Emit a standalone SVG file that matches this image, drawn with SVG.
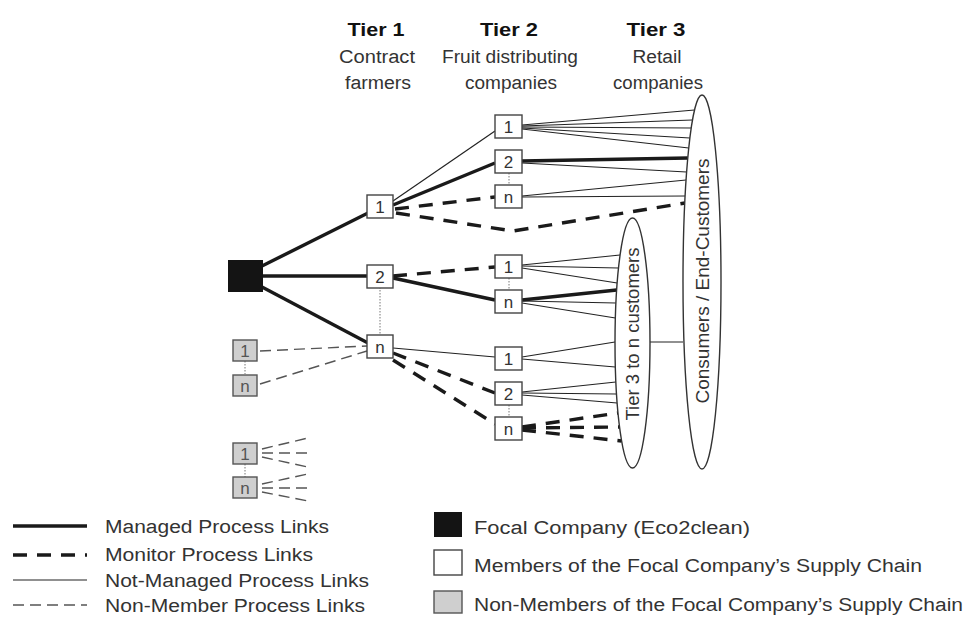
<svg xmlns="http://www.w3.org/2000/svg" width="967" height="619" viewBox="0 0 967 619">
<style>
text{font-family:"Liberation Sans",Arial,sans-serif;fill:#2a2a2a}
.hd{font-weight:bold;font-size:19px;fill:#111;text-anchor:middle}
.sub{font-size:18px;text-anchor:middle;fill:#333}
.lg{font-size:18px;fill:#333}
.box{fill:#fff;stroke:#444;stroke-width:1.4}
.gbox{fill:#cfcfcf;stroke:#555;stroke-width:1.4}
.num{font-size:17px;text-anchor:middle;fill:#333}
.gnum{font-size:17px;text-anchor:middle;fill:#555}
.thick{stroke:#1a1a1a;stroke-width:3.4;fill:none}
.thin{stroke:#222;stroke-width:1.2;fill:none}
.mon{stroke:#1a1a1a;stroke-width:3.4;fill:none;stroke-dasharray:14 10}
.non{stroke:#555;stroke-width:1.4;fill:none;stroke-dasharray:11 6}
.dot{stroke:#777;stroke-width:1;fill:none;stroke-dasharray:1.5 1.5}
.ell{fill:#fff;stroke:#333;stroke-width:1.4}
.et{font-size:18px;text-anchor:middle;fill:#333}
</style>

<g id="headers">
<text class="hd" x="376" y="36" textLength="57" lengthAdjust="spacingAndGlyphs">Tier 1</text>
<text class="sub" x="377" y="63" textLength="76" lengthAdjust="spacingAndGlyphs">Contract</text>
<text class="sub" x="378" y="89" textLength="66" lengthAdjust="spacingAndGlyphs">farmers</text>
<text class="hd" x="509" y="36" textLength="58" lengthAdjust="spacingAndGlyphs">Tier 2</text>
<text class="sub" x="510" y="63" textLength="136" lengthAdjust="spacingAndGlyphs">Fruit distributing</text>
<text class="sub" x="511" y="89" textLength="92" lengthAdjust="spacingAndGlyphs">companies</text>
<text class="hd" x="656" y="36" textLength="59" lengthAdjust="spacingAndGlyphs">Tier 3</text>
<text class="sub" x="657" y="63" textLength="49" lengthAdjust="spacingAndGlyphs">Retail</text>
<text class="sub" x="658" y="89" textLength="90" lengthAdjust="spacingAndGlyphs">companies</text>
</g>

<g id="connectors">
<line class="thick" x1="262" y1="266" x2="368" y2="213"/>
<line class="thick" x1="263" y1="276" x2="367" y2="276"/>
<line class="thick" x1="262" y1="287" x2="368" y2="343"/>
<line class="thin" x1="393" y1="201" x2="495" y2="131"/>
<line class="thick" x1="393" y1="205" x2="495" y2="163"/>
<line class="mon" x1="395" y1="209" x2="495" y2="197"/>
<polyline class="mon" points="396,213 513,231 685,203"/>
<line class="mon" x1="393" y1="276" x2="495" y2="267"/>
<line class="thick" x1="393" y1="278" x2="495" y2="300"/>
<line class="thin" x1="393" y1="348" x2="495" y2="357"/>
<line class="mon" x1="393" y1="353" x2="495" y2="393"/>
<line class="mon" x1="393" y1="360" x2="495" y2="424"/>
<line class="dot" x1="380" y1="287" x2="380" y2="335"/>
<line class="dot" x1="509" y1="173" x2="509" y2="185"/>
<line class="dot" x1="509" y1="278" x2="509" y2="290"/>
<line class="dot" x1="509" y1="405" x2="509" y2="417"/>
<line class="dot" x1="245" y1="361" x2="245" y2="374"/>
<line class="dot" x1="245" y1="464" x2="245" y2="477"/>
<line class="thin" x1="522" y1="125" x2="694.5" y2="110"/>
<line class="thin" x1="522" y1="126" x2="692.5" y2="120"/>
<line class="thin" x1="522" y1="127" x2="691.2" y2="128"/>
<line class="thin" x1="522" y1="128" x2="689.9" y2="138"/>
<line class="thin" x1="522" y1="129" x2="688.7" y2="148"/>
<line class="thick" x1="522" y1="161" x2="687.8" y2="158"/>
<line class="thin" x1="522" y1="163" x2="686.6" y2="172"/>
<line class="thin" x1="522" y1="196" x2="686.1" y2="180"/>
<line class="thin" x1="522" y1="197" x2="685.1" y2="196"/>
<line class="thin" x1="522" y1="265" x2="620.1" y2="255"/>
<line class="thin" x1="522" y1="266" x2="618.5" y2="268"/>
<line class="thin" x1="522" y1="268" x2="617.2" y2="283"/>
<line class="thick" x1="522" y1="300" x2="616.7" y2="290"/>
<line class="thin" x1="522" y1="301" x2="615.9" y2="303"/>
<line class="thin" x1="522" y1="303" x2="615.4" y2="318"/>
<line class="thin" x1="522" y1="357" x2="615" y2="342"/>
<line class="thin" x1="522" y1="359" x2="615.3" y2="367"/>
<line class="thin" x1="522" y1="392" x2="615.9" y2="382"/>
<line class="thin" x1="522" y1="393" x2="616.5" y2="394"/>
<line class="thin" x1="522" y1="395" x2="617.2" y2="403"/>
<line class="mon" x1="522" y1="427" x2="618" y2="413"/>
<line class="mon" x1="522" y1="428" x2="619.5" y2="427"/>
<line class="mon" x1="522" y1="430" x2="621.6" y2="441"/>
<line class="thin" x1="650" y1="342" x2="683" y2="342"/>
<line class="non" x1="260" y1="351" x2="367" y2="346"/>
<line class="non" x1="260" y1="384" x2="367" y2="351"/>
<line class="non" x1="262" y1="449" x2="308" y2="438"/>
<line class="non" x1="262" y1="453" x2="308" y2="453"/>
<line class="non" x1="262" y1="457" x2="308" y2="467"/>
<line class="non" x1="262" y1="484" x2="308" y2="474"/>
<line class="non" x1="262" y1="488" x2="308" y2="488"/>
<line class="non" x1="262" y1="492" x2="308" y2="501"/>
</g>

<g id="consumers">
<ellipse class="ell" cx="702" cy="282" rx="19" ry="187"/>
<text class="et" transform="translate(709,281) rotate(-90)" textLength="245" lengthAdjust="spacingAndGlyphs">Consumers / End-Customers</text>
</g>
<g id="tier3-customers">
<ellipse class="ell" cx="632.5" cy="343" rx="17.5" ry="125"/>
<text class="et" transform="translate(639,334) rotate(-90)" textLength="173" lengthAdjust="spacingAndGlyphs">Tier 3 to n customers</text>
</g>

<g id="focal"><rect x="228" y="260" width="35" height="32" fill="#141414"/></g>

<g id="t1-1"><rect class="box" x="367" y="195" width="26" height="23"/><text class="num" x="380" y="213">1</text></g>
<g id="t1-2"><rect class="box" x="367" y="265" width="26" height="23"/><text class="num" x="380" y="283">2</text></g>
<g id="t1-n"><rect class="box" x="367" y="335" width="26" height="23"/><text class="num" x="380" y="353">n</text></g>

<g id="t2-a1"><rect class="box" x="495" y="115" width="27" height="23"/><text class="num" x="508.5" y="133">1</text></g>
<g id="t2-a2"><rect class="box" x="495" y="150" width="27" height="23"/><text class="num" x="508.5" y="168">2</text></g>
<g id="t2-an"><rect class="box" x="495" y="185" width="27" height="23"/><text class="num" x="508.5" y="203">n</text></g>
<g id="t2-b1"><rect class="box" x="495" y="255" width="27" height="23"/><text class="num" x="508.5" y="273">1</text></g>
<g id="t2-bn"><rect class="box" x="495" y="290" width="27" height="23"/><text class="num" x="508.5" y="308">n</text></g>
<g id="t2-c1"><rect class="box" x="495" y="347" width="27" height="23"/><text class="num" x="508.5" y="365">1</text></g>
<g id="t2-c2"><rect class="box" x="495" y="382" width="27" height="23"/><text class="num" x="508.5" y="400">2</text></g>
<g id="t2-cn"><rect class="box" x="495" y="417" width="27" height="23"/><text class="num" x="508.5" y="435">n</text></g>

<g id="nm-a1"><rect class="gbox" x="233" y="340" width="24" height="21"/><text class="gnum" x="245" y="357">1</text></g>
<g id="nm-an"><rect class="gbox" x="233" y="375" width="24" height="21"/><text class="gnum" x="245" y="392">n</text></g>
<g id="nm-b1"><rect class="gbox" x="233" y="443" width="24" height="21"/><text class="gnum" x="245" y="460">1</text></g>
<g id="nm-bn"><rect class="gbox" x="233" y="477" width="24" height="21"/><text class="gnum" x="245" y="494">n</text></g>

<g id="legend-lines">
<line class="thick" x1="13" y1="526" x2="87" y2="526"/>
<line class="mon" x1="13" y1="555" x2="87" y2="555"/>
<line class="thin" x1="13" y1="580" x2="87" y2="580"/>
<line class="non" x1="13" y1="605" x2="87" y2="605"/>
<text class="lg" x="105" y="533" textLength="224" lengthAdjust="spacingAndGlyphs">Managed Process Links</text>
<text class="lg" x="105" y="561" textLength="208" lengthAdjust="spacingAndGlyphs">Monitor Process Links</text>
<text class="lg" x="105" y="587" textLength="264" lengthAdjust="spacingAndGlyphs">Not-Managed Process Links</text>
<text class="lg" x="105" y="612" textLength="260" lengthAdjust="spacingAndGlyphs">Non-Member Process Links</text>
</g>

<g id="legend-nodes">
<rect x="434" y="512" width="28" height="25" fill="#141414"/>
<rect class="box" x="434" y="550" width="28" height="25"/>
<rect class="gbox" x="434" y="591" width="28" height="22"/>
<text class="lg" x="474" y="534" textLength="276" lengthAdjust="spacingAndGlyphs">Focal Company (Eco2clean)</text>
<text class="lg" x="474" y="572" textLength="448" lengthAdjust="spacingAndGlyphs">Members of the Focal Company’s Supply Chain</text>
<text class="lg" x="474" y="611" textLength="489" lengthAdjust="spacingAndGlyphs">Non-Members of the Focal Company’s Supply Chain</text>
</g>
</svg>
